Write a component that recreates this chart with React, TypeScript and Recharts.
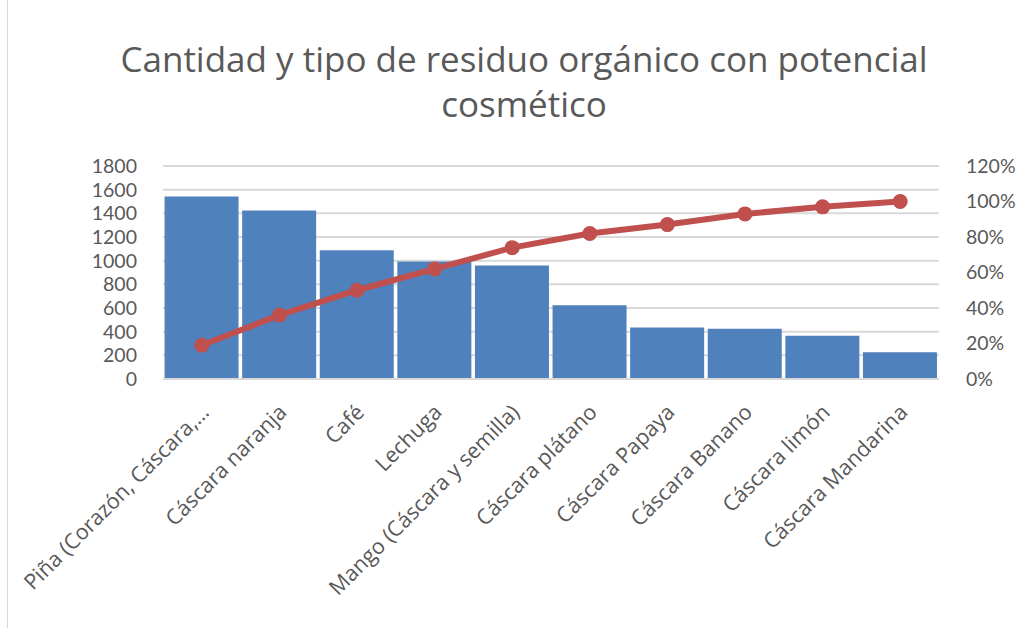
import React from "react";
import {
  ComposedChart,
  Bar,
  Line,
  XAxis,
  YAxis,
  CartesianGrid,
} from "recharts";

const categories = [
  "Piña (Corazón, Cáscara,…",
  "Cáscara naranja",
  "Café",
  "Lechuga",
  "Mango (Cáscara y semilla)",
  "Cáscara plátano",
  "Cáscara Papaya",
  "Cáscara Banano",
  "Cáscara limón",
  "Cáscara Mandarina",
];
const cantidad = [1542, 1424, 1089, 994, 960, 623, 435, 424, 365, 227];
const acumulado = [19, 36, 50, 62, 74, 82, 87, 93, 97, 100];
const leftTicks = [0, 200, 400, 600, 800, 1000, 1200, 1400, 1600, 1800];
const rightTicks = [0, 20, 40, 60, 80, 100, 120];

const data = categories.map((name, i) => ({
  name,
  cantidad: cantidad[i],
  acumulado: acumulado[i],
}));

const FONT = "'Open Sans', sans-serif";
const TICK_FONT = "Lato, 'Open Sans', sans-serif";
const TEXT = "#595959";

function XTick(props: any) {
  const { x, y, payload } = props;
  return (
    <g transform={`translate(${x - 2},${y + 16})`}>
      <text
        textAnchor="end"
        transform="rotate(-45)"
        dy="0.7em"
        fill={TEXT}
        fontSize={21.5}
        fontFamily={FONT}
      >
        {payload.value}
      </text>
    </g>
  );
}

export default function App() {
  return (
    <div
      style={{
        position: "fixed",
        top: 0,
        left: 0,
        width: 1030,
        height: 628,
        background: "#fff",
        fontFamily: FONT,
      }}
    >
      <div
        style={{
          position: "absolute",
          left: 7,
          top: 0,
          width: 1,
          height: 628,
          background: "#d9d9d9",
        }}
      />
      <div
        style={{
          position: "absolute",
          left: 0,
          top: 36,
          width: 1048,
          textAlign: "center",
          color: TEXT,
          fontSize: 35,
          fontWeight: 400,
          lineHeight: "45px",
        }}
      >
        Cantidad y tipo de residuo orgánico con potencial
        <br />
        cosmético
      </div>
      <ComposedChart
        width={1030}
        height={628}
        data={data}
        margin={{ top: 166, right: 31, bottom: 228, left: 103 }}
        barCategoryGap="2%"
      >
        <CartesianGrid
          yAxisId="left"
          vertical={false}
          stroke="#d9d9d9"
          strokeWidth={2}
        />
        <XAxis
          dataKey="name"
          axisLine={{ stroke: "#d9d9d9", strokeWidth: 2 }}
          tickLine={false}
          interval={0}
          tick={<XTick />}
          height={21}
        />
        <YAxis
          yAxisId="left"
          domain={[0, 1800]}
          ticks={leftTicks}
          interval={0}
          axisLine={false}
          tickLine={false}
          tickMargin={20}
          width={60}
          tick={{ fill: TEXT, fontSize: 19.5, fontFamily: TICK_FONT }}
        />
        <YAxis
          yAxisId="right"
          orientation="right"
          domain={[0, 120]}
          ticks={rightTicks}
          interval={0}
          tickFormatter={(v) => `${v}%`}
          axisLine={false}
          tickLine={false}
          tickMargin={21}
          width={60}
          tick={{ fill: TEXT, fontSize: 19.5, fontFamily: TICK_FONT, textAnchor: "start" }}
        />
        <Bar
          yAxisId="left"
          dataKey="cantidad"
          fill="#4f81bd"
          isAnimationActive={false}
        />
        <Line
          yAxisId="right"
          dataKey="acumulado"
          stroke="#c0504d"
          strokeWidth={6}
          dot={{ r: 7.5, fill: "#c0504d", stroke: "#c0504d", strokeWidth: 0 }}
          isAnimationActive={false}
        />
      </ComposedChart>
    </div>
  );
}
